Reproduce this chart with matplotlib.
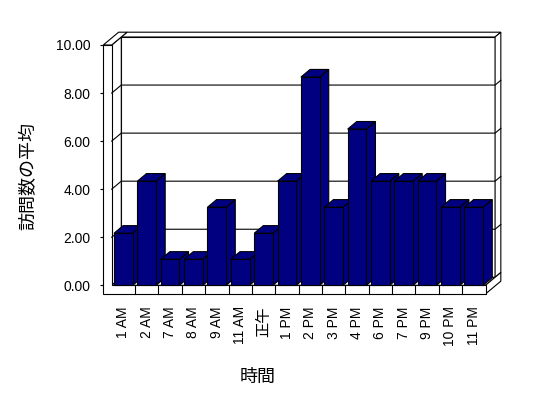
import matplotlib
matplotlib.use("Agg")
import matplotlib.pyplot as plt
from matplotlib.patches import Polygon

hours = ["1 AM", "2 AM", "7 AM", "8 AM", "9 AM", "11 AM", "正午", "1 PM",
         "2 PM", "3 PM", "4 PM", "6 PM", "7 PM", "9 PM", "10 PM", "11 PM"]
visits = [2, 4, 1, 1, 3, 1, 2, 4, 8, 3, 6, 4, 4, 4, 3, 3]
yticks = [0, 2, 4, 6, 8, 10]

navy = "#000080"
jp = "Noto Sans CJK JP"

# fake Excel 3D box: depth offset in data units, wall/floor thickness
dx, dy = 0.41, 0.333
t = 0.6          # back wall thickness, as fraction of depth
wx = 0.36        # left wall thickness (category units)
fh = 0.36        # floor thickness (value units)
persp = 26 / 24  # bars come out a bit taller than the axis in the original
bw, bd = 0.4, 0.95

fig = plt.figure(figsize=(5.48, 3.98), dpi=100)
ax = fig.add_axes([111.7 / 548, (398 - 285.3) / 398, 373.8 / 548, 240.3 / 398])
n = len(hours)
x0, x1, top = -0.5, n - 0.5, yticks[-1]
ax.set_xlim(x0, x1)
ax.set_ylim(0, top)
ax.patch.set_visible(False)


def face(pts, z, fc="white"):
    ax.add_patch(Polygon(pts, closed=True, fc=fc, ec="black", lw=0.8,
                         zorder=z, clip_on=False, joinstyle="miter"))


D = 1 + t
# back wall
face([(x0 + dx, dy), (x1 + dx, dy), (x1 + dx, top + dy), (x0 + dx, top + dy)], 1)
face([(x0 + dx, top + dy), (x1 + dx, top + dy), (x1 + dx * D, top + dy * D),
      (x0 + dx * D, top + dy * D)], 1)
face([(x1 + dx, dy), (x1 + dx, top + dy), (x1 + dx * D, top + dy * D),
      (x1 + dx * D, dy * D)], 1)
# left wall
face([(x0, 0), (x0, top), (x0 + dx, top + dy), (x0 + dx, dy)], 2)
face([(x0 - wx, top), (x0, top), (x0 + dx, top + dy), (x0 + dx * D, top + dy * D),
      (x0 - wx + dx * D, top + dy * D)], 2)
# floor
face([(x0, 0), (x1, 0), (x1 + dx, dy), (x0 + dx, dy)], 2)
face([(x1, 0), (x1, -fh), (x1 + dx * D, -fh + dy * D), (x1 + dx * D, dy * D)], 2)
# front faces of left wall + floor
face([(x0 - wx, -fh), (x1, -fh), (x1, 0), (x0, 0), (x0, top), (x0 - wx, top)], 3)

# gridlines across left wall, back wall and its right edge
for v in yticks[1:-1]:
    ax.plot([x0, x0 + dx, x1 + dx, x1 + dx * D], [v, v + dy, v + dy, v + dy * D],
            color="black", lw=0.8, zorder=4, clip_on=False)

# category ticks on the floor front
for k in range(n - 1):
    ax.plot([k + 0.5, k + 0.5], [-fh, 0], color="black", lw=0.8, zorder=4, clip_on=False)

# bars
for i, v in enumerate(visits):
    h = v * persp
    L, R = i - bw, i + bw
    z = 10 + i
    face([(R, 0), (R + dx * bd, dy * bd), (R + dx * bd, h + dy * bd), (R, h)], z, navy)
    face([(L, h), (R, h), (R + dx * bd, h + dy * bd), (L + dx * bd, h + dy * bd)], z, navy)
    face([(L, 0), (R, 0), (R, h), (L, h)], z, navy)

for s in ax.spines.values():
    s.set_visible(False)
ax.spines["left"].set_position(("outward", wx * 23.36 * 0.72))
ax.spines["bottom"].set_position(("outward", fh * 24.03 * 0.72))

ax.set_yticks(yticks)
ax.set_yticklabels([f"{v:.2f}" for v in yticks], family="Liberation Sans", fontsize=10)
ax.tick_params(axis="y", length=2.2, width=0.8, pad=6.9, direction="out")

ax.set_xticks(range(n))
ax.set_xticklabels(hours, rotation=90, family=["Liberation Sans", jp], fontsize=10)
ax.tick_params(axis="x", length=0, pad=8.9)
for lab in ax.get_xticklabels():
    if not lab.get_text().isascii():
        lab.set_fontfamily(jp)
        lab.set_fontsize(11)

fig.text(28 / 548, 1 - 176 / 398, "訪問数の平均", rotation=90, ha="center", va="center",
         family=jp, fontsize=13)
fig.text(258 / 548, 1 - 377 / 398, "時間", ha="center", va="center", family=jp, fontsize=13)

fig.savefig("out.png", dpi=100)
